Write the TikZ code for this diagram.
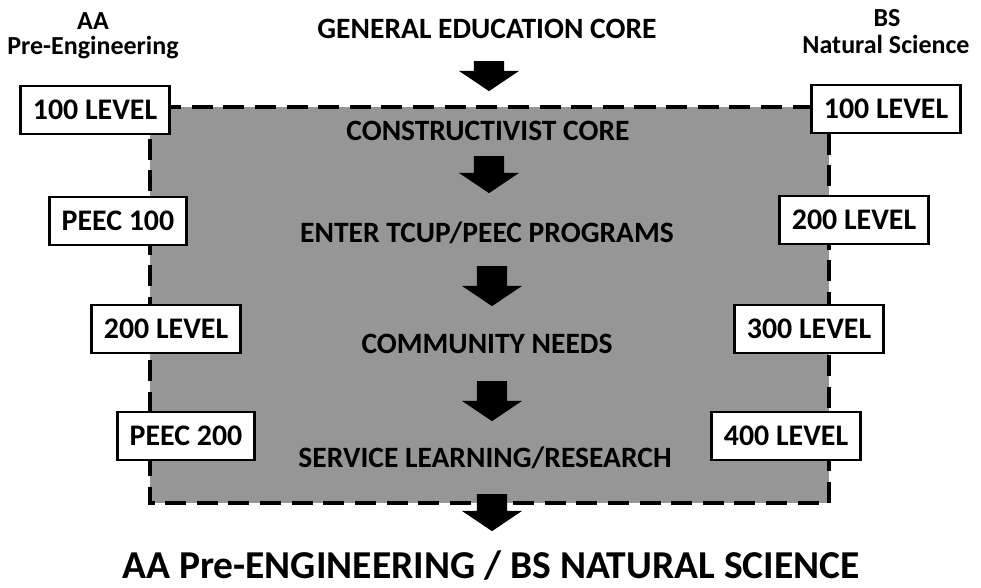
\documentclass[tikz,border=0pt]{standalone}
\usepackage{fontspec}
\setmainfont{Carlito}
\usepackage{tikz}
\usetikzlibrary{shapes.arrows}
\definecolor{coregray}{RGB}{150,150,150}

\begin{document}
\begin{tikzpicture}[thick, x=0.02cm, y=-0.02cm,
  lbl/.style={font=\bfseries\fontsize{16.8}{18}\selectfont, inner sep=0pt, anchor=base},
  side/.style={lbl, font=\bfseries\fontsize{14.8}{16}\selectfont},
  levelbox/.style={draw, fill=white, line width=1.3pt, minimum width=2.98cm, minimum height=0.95cm,
    inner sep=0pt, font=\bfseries\fontsize{17}{18}\selectfont},
  peecbox/.style={levelbox, minimum width=2.74cm},
  downarr/.style={single arrow, fill=black, rotate=-90, inner xsep=0pt, inner ysep=0.29cm,
    single arrow head extend=0.3cm, single arrow tip angle=112, anchor=tip}]
  \useasboundingbox (0,0) rectangle (981,588);

  % shaded core region
  \fill[coregray] (150,107) rectangle (829,503);
  \draw[line width=2pt, dash pattern=on 12pt off 6pt] (150,107) rectangle (829,503);

  % headings
  \node[side] (aa) at (93,30) {AA};
  \node[side] (aapre) at (93,55) {Pre-Engineering};
  \node[side] (bs) at (887,27) {BS};
  \node[side] (bsnat) at (886,54) {Natural Science};
  \node[lbl] (gen) at (487,39) {GENERAL EDUCATION CORE};

  % steps
  \node[lbl] (cons) at (488,141) {CONSTRUCTIVIST CORE};
  \node[lbl] (enter) at (487,242) {ENTER TCUP/PEEC PROGRAMS};
  \node[lbl] (comm) at (487,353) {COMMUNITY NEEDS};
  \node[lbl] (serv) at (485,467) {SERVICE LEARNING/RESEARCH};
  \node[lbl, font=\bfseries\fontsize{22.5}{24}\selectfont] (degree) at (491,578)
    {AA Pre-ENGINEERING / BS NATURAL SCIENCE};

  % arrows
  \node[downarr, minimum height=0.6cm] (a1) at (489,92) {};
  \node[downarr, minimum height=0.74cm] (a2) at (489,194) {};
  \node[downarr, minimum height=0.8cm] (a3) at (492,307) {};
  \node[downarr, minimum height=0.8cm] (a4) at (492,422) {};
  \node[downarr, minimum height=0.74cm] (a5) at (492,532) {};

  % AA side
  \node[levelbox] (l100) at (95,110) {100 LEVEL};
  \node[peecbox] (p100) at (118,221) {PEEC 100};
  \node[levelbox] (l200) at (166,329) {200 LEVEL};
  \node[peecbox] (p200) at (186,436) {PEEC 200};

  % BS side
  \node[levelbox] (r100) at (886,109) {100 LEVEL};
  \node[levelbox] (r200) at (854,220) {200 LEVEL};
  \node[levelbox] (r300) at (809,329) {300 LEVEL};
  \node[levelbox] (r400) at (786,436) {400 LEVEL};
\end{tikzpicture}
\end{document}
